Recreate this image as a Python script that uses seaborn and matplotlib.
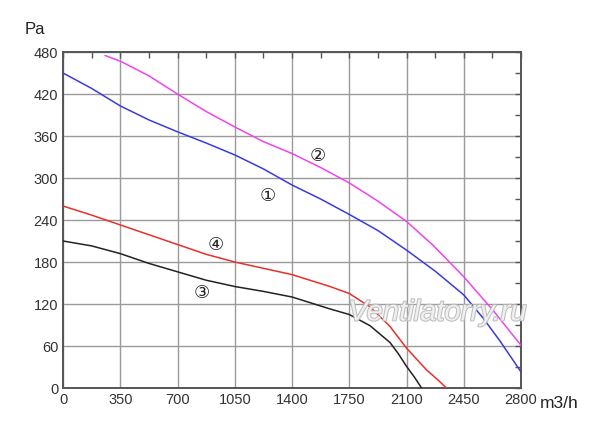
import numpy as np
import pandas as pd
import matplotlib
matplotlib.use("Agg")
import matplotlib.pyplot as plt
import matplotlib.patheffects as pe
from matplotlib.ticker import MultipleLocator
import seaborn as sns

# ---- data ----
x1 = [0, 175, 350, 525, 700, 875, 1050, 1225, 1400, 1575, 1750, 1925, 2100, 2275, 2450, 2568, 2672, 2800]
y1 = [450, 428, 403, 383, 366, 350, 333, 313, 290, 270, 248, 225, 197, 167, 133, 100, 67, 23]

x2 = [257, 350, 525, 700, 875, 1050, 1225, 1400, 1575, 1750, 1925, 2100, 2262, 2450, 2629, 2800]
y2 = [475, 467, 446, 420, 395, 373, 352, 335, 315, 293, 267, 238, 204, 159, 111, 61]

x3 = [0, 175, 350, 525, 700, 875, 1050, 1225, 1400, 1632, 1750, 1877, 1999, 2050, 2100, 2150, 2192]
y3 = [210, 203, 192, 178, 166, 154, 145, 138, 130, 113, 105, 89, 65, 49, 31, 15, 0]

x4 = [0, 175, 350, 525, 700, 875, 1050, 1225, 1400, 1632, 1750, 1877, 1999, 2100, 2222, 2290, 2344]
y4 = [260, 247, 233, 219, 205, 191, 180, 171, 162, 145, 135, 116, 88, 57, 26, 12, 0]

curve_names = ["1", "2", "3", "4"]
curve_colors = ["#3a3adf", "#ee44ee", "#222222", "#e8302a"]
curve_labels = ["①", "②", "③", "④"]
label_x = [1253, 1560, 850, 935]
label_y = [274, 331, 136, 204]

x_ticks = [0, 350, 700, 1050, 1400, 1750, 2100, 2450, 2800]
y_ticks = [0, 60, 120, 180, 240, 300, 360, 420, 480]

frames = []
for name, xs, ys in zip(curve_names, [x1, x2, x3, x4], [y1, y2, y3, y4]):
    frames.append(pd.DataFrame({"flow": xs, "pressure": ys, "curve": name}))
df = pd.concat(frames, ignore_index=True)

sns.set_theme(style="white")
plt.rcParams['font.family'] = ['Liberation Sans', 'DejaVu Sans', 'Noto Sans CJK SC']

fig = plt.figure(figsize=(6.0, 4.26), dpi=100)
ax = fig.add_axes([63/600, 1-388/426, (521-63)/600, (388-52)/426])

sns.lineplot(data=df, x="flow", y="pressure", hue="curve", sort=False,
             palette=dict(zip(curve_names, curve_colors)), linewidth=1.1,
             legend=False, ax=ax, zorder=3)

ax.set_xlim(0, 2800)
ax.set_ylim(0, 480)
ax.set_xticks(x_ticks)
ax.set_yticks(y_ticks)
ax.set_xticklabels([str(v) for v in x_ticks])
ax.set_yticklabels([str(v) for v in y_ticks])
ax.xaxis.set_minor_locator(MultipleLocator(175))
ax.yaxis.set_minor_locator(MultipleLocator(30))
ax.grid(True, which="major", color="#9a9a9a", linewidth=1.0)
ax.set_axisbelow(True)
ax.tick_params(which="both", direction="in", top=True, right=True,
               colors="#555555", labelcolor="#333333", labelsize=10.5)
ax.tick_params(which="major", length=4, width=1)
ax.tick_params(which="minor", length=4, width=1)
for s in ax.spines.values():
    s.set_color("#555555")
    s.set_linewidth(1.4)
ax.set_xlabel("")
ax.set_ylabel("")

fig.text(35/600, 1-30/426, "Pa", ha="center", va="center", fontsize=12, color="#222222")
fig.text(559/600, 1-403/426, "m3/h", ha="center", va="center", fontsize=12.5, color="#222222")

for lab, lx, ly in zip(curve_labels, label_x, label_y):
    ax.text(lx, ly, lab, ha="center", va="center", fontsize=13, color="#222222",
            family=['DejaVu Sans', 'Noto Sans CJK SC'], zorder=4)

ax.text(2290, 108, "Ventilatorry.ru", ha="center", va="center", fontsize=21,
        style="italic", color="#f4f4f4", alpha=0.9, zorder=5,
        path_effects=[pe.withStroke(linewidth=1.5, foreground="#b8b8b8")])

fig.savefig("out.png", dpi=100, facecolor="white")
